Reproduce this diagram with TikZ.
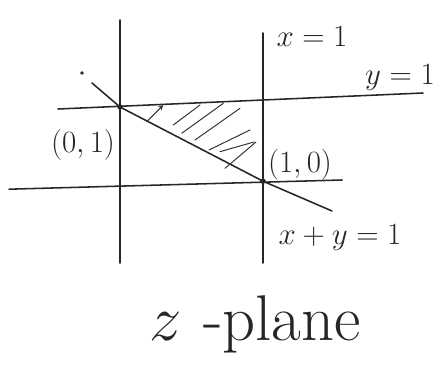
\RequirePackage{fix-cm}
\documentclass[tikz,border=0pt]{standalone}
\begin{document}
\begin{tikzpicture}[>=stealth, line cap=round,
    recta/.style={line width=1.1pt, black!85},
    raya/.style={line width=0.7pt, black!80},
    etiq/.style={font=\fontsize{22}{26}\selectfont, text=black!85, inner sep=1pt}]
    \useasboundingbox (0,0) rectangle (11.075,9.15);

    % Puntos
    \coordinate (p01) at (3.0,6.475);
    \coordinate (p10) at (6.575,4.62);
    \coordinate (a1) at (3.0,8.65);
    \coordinate (a2) at (3.0,2.575);
    \coordinate (b1) at (6.575,8.325);
    \coordinate (b2) at (6.575,2.575);
    \coordinate (c1) at (1.45,6.425);
    \coordinate (c2) at (10.575,6.825);
    \coordinate (e1) at (0.225,4.42);
    \coordinate (e2) at (8.55,4.65);
    \coordinate (d1) at (2.3,7.075);
    \coordinate (d2) at (8.3,3.875);

    % Rectas
    \draw[recta] (a1) -- (a2);
    \draw[recta] (b1) -- (b2);
    \draw[recta] (c1) -- (c2);
    \draw[recta] (e1) -- (e2);
    \draw[recta] (d1) -- (p01) -- (p10) -- (d2);

    \filldraw[black!85] (p01) circle (0.06);
    \filldraw[black!85] (p10) circle (0.06);
    \filldraw[black!85] (2.05,7.325) circle (0.035);

    % Region rayada
    \draw[raya, ->] (3.667,6.108) -- (4.083,6.525);
    \draw[raya] (4.333,6.025) -- (5.0,6.525);
    \draw[raya] (4.542,5.817) -- (5.583,6.567);
    \draw[raya] (4.875,5.65) -- (6.0,6.442);
    \draw[raya] (5.225,5.4) -- (6.25,5.9);
    \draw[raya] (5.5,5.358) -- (6.35,5.6);
    \draw[raya] (5.625,4.942) -- (6.4,5.6);

    % Etiquetas
    \node[etiq] (lx) at (7.8,8.225) {$x=1$};
    \node[etiq] (ly) at (10.0,7.2) {$y=1$};
    \node[etiq] (l01) at (2.075,5.525) {$(0,1)$};
    \node[etiq] (l10) at (7.5,5.025) {$(1,0)$};
    \node[etiq] (lsum) at (8.5,3.2) {$x+y=1$};
    \node[etiq, font=\fontsize{46}{52}\selectfont] (lplano) at (6.375,1.05) {$z$\,\,-plane};
\end{tikzpicture}
\end{document}
